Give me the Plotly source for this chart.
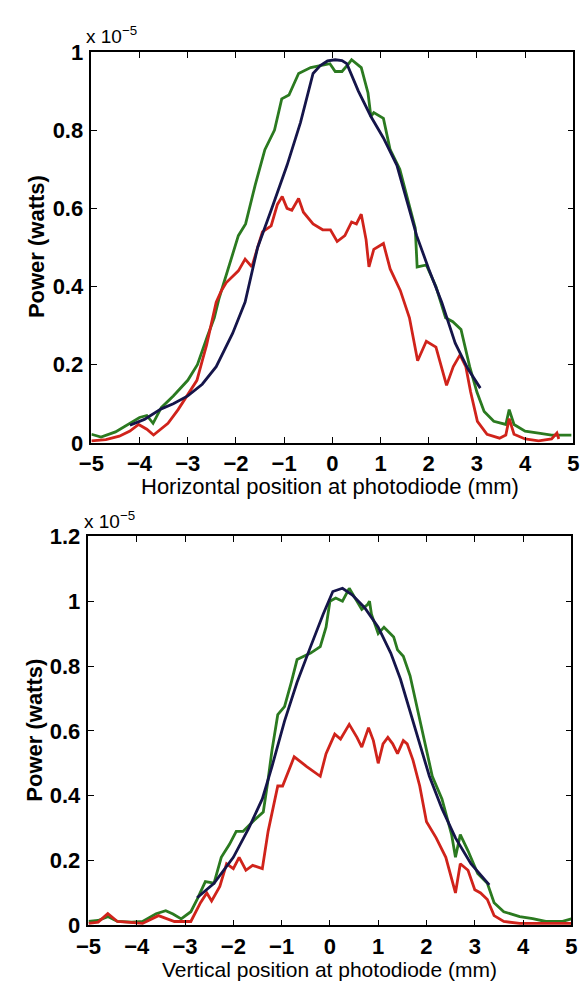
import plotly.graph_objects as go

# ---------------- Data (power in units of 1e-5 W) ----------------
# Top panel: horizontal scan
h_green_x = [-5.0, -4.8, -4.5, -4.2, -4.0, -3.85, -3.72, -3.55, -3.3, -3.0, -2.8, -2.6, -2.45, -2.35,
             -2.15, -2.05, -1.95, -1.8, -1.6, -1.4, -1.2, -1.05, -0.9, -0.7, -0.45, -0.25, -0.05, 0.06,
             0.2, 0.34, 0.4, 0.6, 0.74, 0.8, 0.86, 1.06, 1.2, 1.4, 1.6, 1.72, 1.76, 1.95, 2.15, 2.35,
             2.5, 2.67, 2.85, 3.0, 3.15, 3.35, 3.6, 3.67, 3.77, 4.0, 4.28, 4.55, 4.96]
h_green_y = [0.022, 0.015, 0.028, 0.05, 0.065, 0.07, 0.05, 0.09, 0.12, 0.16, 0.2, 0.27, 0.32, 0.37,
             0.45, 0.49, 0.53, 0.56, 0.66, 0.75, 0.80, 0.88, 0.89, 0.945, 0.96, 0.965, 0.97, 0.95,
             0.95, 0.97, 0.98, 0.96, 0.895, 0.835, 0.845, 0.83, 0.75, 0.70, 0.61, 0.55, 0.45, 0.455,
             0.40, 0.32, 0.31, 0.29, 0.195, 0.13, 0.08, 0.055, 0.047, 0.085, 0.047, 0.03, 0.025, 0.02, 0.02]

h_red_x = [-5.0, -4.7, -4.42, -4.2, -4.02, -3.85, -3.71, -3.55, -3.41, -3.2, -3.07, -2.81, -2.7, -2.61,
           -2.41, -2.3, -2.2, -1.95, -1.81, -1.67, -1.55, -1.45, -1.27, -1.14, -1.04, -0.94, -0.84,
           -0.7, -0.6, -0.4, -0.2, -0.04, 0.1, 0.26, 0.4, 0.5, 0.6, 0.7, 0.76, 0.86, 1.06, 1.2, 1.41,
           1.6, 1.77, 1.95, 2.15, 2.37, 2.51, 2.65, 2.77, 2.87, 3.01, 3.21, 3.47, 3.6, 3.67, 3.77,
           4.0, 4.28, 4.55, 4.66, 4.7]
h_red_y = [0.005, 0.008, 0.017, 0.03, 0.047, 0.035, 0.02, 0.035, 0.05, 0.085, 0.11, 0.16, 0.21, 0.25,
           0.36, 0.39, 0.41, 0.44, 0.47, 0.45, 0.50, 0.54, 0.555, 0.61, 0.63, 0.60, 0.595,
           0.625, 0.59, 0.56, 0.545, 0.545, 0.515, 0.53, 0.565, 0.56, 0.585, 0.52, 0.45, 0.495, 0.51,
           0.445, 0.39, 0.32, 0.21, 0.26, 0.245, 0.147, 0.195, 0.225, 0.195, 0.13, 0.055, 0.022,
           0.012, 0.02, 0.062, 0.022, 0.01, 0.005, 0.01, 0.025, 0.01]

h_fit_x = [-4.2, -3.9, -3.55, -3.3, -3.0, -2.7, -2.41, -2.2, -2.07, -1.81, -1.55, -1.27, -0.94, -0.66,
           -0.4, -0.25, -0.1, 0.06, 0.2, 0.3, 0.54, 0.8, 1.06, 1.34, 1.6, 1.75, 2.0, 2.27, 2.55, 2.81, 3.07]
h_fit_y = [0.045, 0.06, 0.087, 0.10, 0.12, 0.15, 0.195, 0.25, 0.28, 0.36, 0.50, 0.595, 0.71, 0.82,
           0.945, 0.965, 0.977, 0.98, 0.978, 0.97, 0.90, 0.835, 0.78, 0.71, 0.60, 0.53, 0.445, 0.36,
           0.255, 0.19, 0.14]

# Bottom panel: vertical scan
v_green_x = [-5.0, -4.8, -4.6, -4.4, -4.1, -3.88, -3.6, -3.4, -3.25, -3.08, -2.88, -2.75, -2.58, -2.45,
             -2.4, -2.25, -2.08, -1.94, -1.8, -1.6, -1.38, -1.28, -1.2, -1.08, -0.94, -0.8, -0.68, -0.54,
             -0.4, -0.2, -0.08, 0.0, 0.12, 0.26, 0.4, 0.52, 0.66, 0.78, 0.82, 0.86, 1.0, 1.12, 1.32, 1.4,
             1.52, 1.66, 1.72, 1.9, 2.12, 2.32, 2.52, 2.6, 2.7, 2.86, 3.06, 3.26, 3.4, 3.6, 3.93, 4.2,
             4.47, 4.8, 5.0]
v_green_y = [0.012, 0.015, 0.027, 0.012, 0.01, 0.012, 0.036, 0.045, 0.035, 0.02, 0.042, 0.08, 0.135, 0.13,
             0.13, 0.21, 0.25, 0.29, 0.29, 0.32, 0.35, 0.45, 0.54, 0.65, 0.675, 0.75, 0.82, 0.83,
             0.84, 0.86, 0.92, 1.0, 1.01, 1.0, 1.04, 1.01, 0.975, 0.99, 1.0, 0.96, 0.90, 0.92, 0.89, 0.85,
             0.83, 0.77, 0.73, 0.61, 0.46, 0.39, 0.28, 0.21, 0.28, 0.23, 0.16, 0.13, 0.07, 0.042, 0.027,
             0.021, 0.012, 0.012, 0.02]

v_red_x = [-5.0, -4.8, -4.6, -4.4, -3.88, -3.55, -3.22, -2.88, -2.68, -2.55, -2.45, -2.28, -2.14, -2.0,
           -1.88, -1.74, -1.6, -1.4, -1.28, -1.08, -0.98, -0.74, -0.48, -0.2, -0.08, 0.1, 0.22, 0.4,
           0.56, 0.66, 0.8, 0.9, 1.0, 1.1, 1.2, 1.3, 1.4, 1.52, 1.6, 1.72, 1.86, 2.0, 2.2, 2.4, 2.6,
           2.7, 2.86, 3.0, 3.12, 3.26, 3.4, 3.6, 3.93, 4.5, 5.0]
v_red_y = [0.006, 0.01, 0.036, 0.012, 0.006, 0.03, 0.012, 0.012, 0.07, 0.10, 0.075, 0.12, 0.19, 0.175,
           0.21, 0.17, 0.185, 0.175, 0.29, 0.43, 0.43, 0.52, 0.49, 0.46, 0.53, 0.59, 0.575, 0.62,
           0.58, 0.55, 0.61, 0.57, 0.50, 0.56, 0.58, 0.56, 0.53, 0.57, 0.56, 0.51, 0.43, 0.32, 0.27,
           0.21, 0.10, 0.19, 0.17, 0.11, 0.10, 0.08, 0.03, 0.012, 0.006, 0.005, 0.006]

v_fit_x = [-2.75, -2.4, -2.0, -1.68, -1.4, -1.2, -0.94, -0.68, -0.4, -0.14, 0.06, 0.26, 0.46, 0.72,
           1.0, 1.26, 1.46, 1.62, 1.8, 2.06, 2.32, 2.6, 2.92, 3.26, 3.3]
v_fit_y = [0.085, 0.13, 0.21, 0.30, 0.39, 0.49, 0.63, 0.75, 0.86, 0.96, 1.03, 1.04, 1.02, 0.98,
           0.92, 0.84, 0.76, 0.68, 0.59, 0.46, 0.36, 0.27, 0.19, 0.13, 0.125]

x_ticks = [-5, -4, -3, -2, -1, 0, 1, 2, 3, 4, 5]
top_y_ticks = [0, 0.2, 0.4, 0.6, 0.8, 1]
bot_y_ticks = [0, 0.2, 0.4, 0.6, 0.8, 1, 1.2]

GREEN = "#2b7a20"
RED = "#d0231b"
NAVY = "#15154a"

W, H = 588, 991
FONT = "Liberation Sans, Arial, Helvetica, sans-serif"

fig = go.Figure()

def add(x, y, color, xa, ya):
    fig.add_trace(go.Scatter(x=x, y=y, mode="lines", line=dict(color=color, width=2.8),
                             xaxis=xa, yaxis=ya, showlegend=False, hoverinfo="skip"))

add(h_green_x, h_green_y, GREEN, "x", "y")
add(h_red_x, h_red_y, RED, "x", "y")
add(h_fit_x, h_fit_y, NAVY, "x", "y")
add(v_green_x, v_green_y, GREEN, "x2", "y2")
add(v_red_x, v_red_y, RED, "x2", "y2")
add(v_fit_x, v_fit_y, NAVY, "x2", "y2")

tickfont = dict(family=FONT, size=22, color="black", weight="bold")

def xaxis(domain, anchor):
    return dict(domain=domain, anchor=anchor, range=[-5, 5], tickvals=x_ticks,
                ticks="inside", ticklen=6, tickwidth=1.2, tickcolor="black",
                showline=True, linecolor="black", linewidth=1.5, mirror="ticks",
                showgrid=False, zeroline=False, tickfont=tickfont, ticklabelstandoff=0)

def yaxis(domain, anchor, rng, vals):
    return dict(domain=domain, anchor=anchor, range=rng, tickvals=vals,
                ticks="inside", ticklen=6, tickwidth=1.2, tickcolor="black",
                showline=True, linecolor="black", linewidth=1.5, mirror="ticks",
                showgrid=False, zeroline=False, tickfont=tickfont, ticklabelstandoff=2)

def px_x(p):
    return p / W

def px_y(p):
    return 1 - p / H

fig.update_layout(
    width=W, height=H,
    margin=dict(l=0, r=0, t=0, b=0),
    paper_bgcolor="white", plot_bgcolor="white",
    xaxis=xaxis([px_x(81), px_x(579)], "y"),
    yaxis=yaxis([px_y(442), px_y(41)], "x", [0, 1], top_y_ticks),
    xaxis2=xaxis([px_x(78), px_x(577)], "y2"),
    yaxis2=yaxis([px_y(937), px_y(538)], "x2", [0, 1.2], bot_y_ticks),
)

annotations = [
    dict(text="Horizontal position at photodiode (mm)", x=px_x(328), y=px_y(487),
         xref="paper", yref="paper", xanchor="center", yanchor="middle", showarrow=False,
         font=dict(family=FONT, size=22, color="black"), borderpad=0),
    dict(text="Vertical position at photodiode (mm)", x=px_x(327), y=px_y(982),
         xref="paper", yref="paper", xanchor="center", yanchor="middle", showarrow=False,
         font=dict(family=FONT, size=21, color="black"), borderpad=0),
    dict(text="Power (watts)", x=px_x(25), y=px_y(241), textangle=-90,
         xref="paper", yref="paper", xanchor="center", yanchor="middle", showarrow=False,
         font=dict(family=FONT, size=22, color="black", weight="bold")),
    dict(text="Power (watts)", x=px_x(22), y=px_y(737), textangle=-90,
         xref="paper", yref="paper", xanchor="center", yanchor="middle", showarrow=False,
         font=dict(family=FONT, size=22, color="black", weight="bold")),
    dict(text="x 10<sup>−5</sup>", x=px_x(74), y=px_y(37),
         xref="paper", yref="paper", xanchor="left", yanchor="bottom", showarrow=False,
         font=dict(family=FONT, size=19, color="black"), borderpad=0),
    dict(text="x 10<sup>−5</sup>", x=px_x(72), y=px_y(534),
         xref="paper", yref="paper", xanchor="left", yanchor="bottom", showarrow=False,
         font=dict(family=FONT, size=19, color="black"), borderpad=0),
]
fig.update_layout(annotations=annotations)

fig.write_html("out.html")
